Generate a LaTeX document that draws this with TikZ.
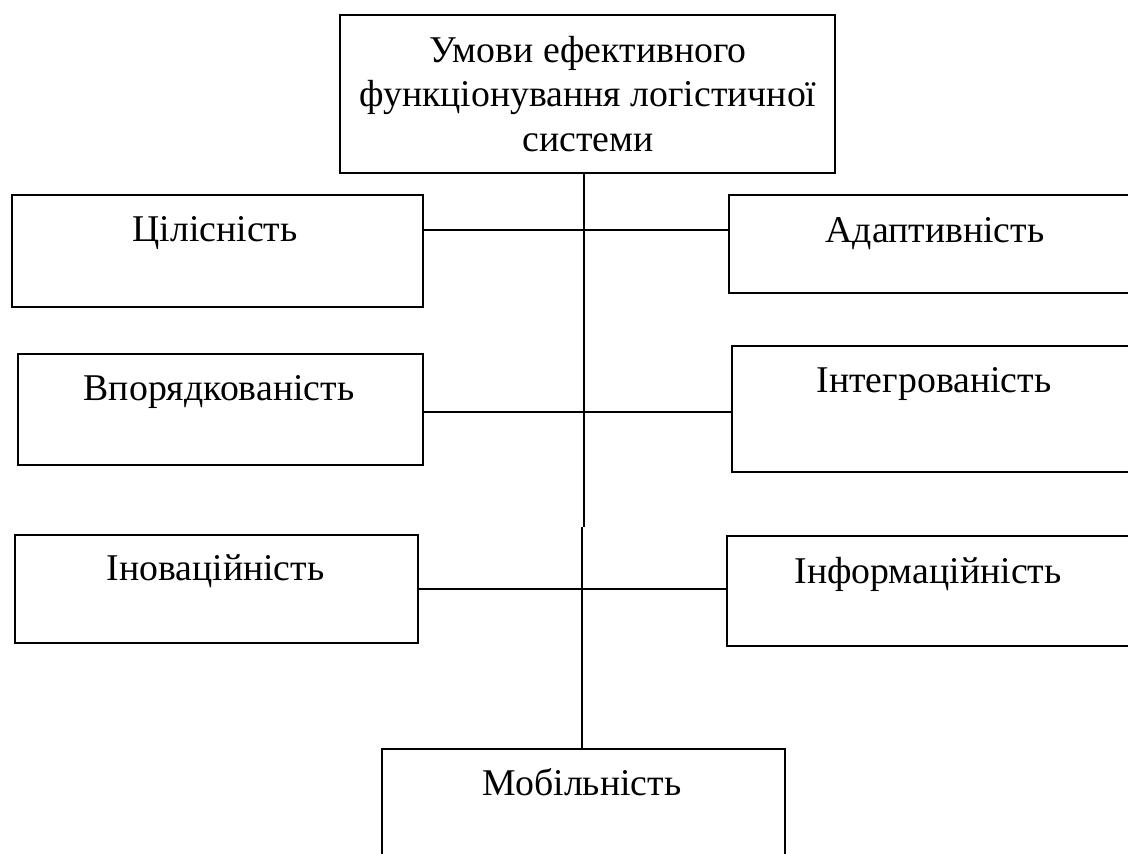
\documentclass[tikz,border=0pt]{standalone}
\usepackage{fontspec}
\setmainfont{Liberation Serif}
\usepackage{tikz}

\begin{document}
\begin{tikzpicture}[
    x=0.02cm, y=-0.02cm,
    every node/.style={font=\fontsize{21.5}{25.5}\selectfont},
    bx/.style={rectangle, draw, line width=1.3pt, inner sep=0pt},
    txt/.style={inner sep=0pt, anchor=base},
    ln/.style={line width=1.3pt},
  ]
  \useasboundingbox (0,0) rectangle (1128,854);
  \clip (0,0) rectangle (1128,854);
  % boxes
  \node[bx, minimum width=9.90cm, minimum height=3.16cm] (top) at (587.5, 94) {};
  \node[bx, minimum width=8.22cm, minimum height=2.24cm] (cil) at (217.5, 251) {};
  \node[bx, minimum width=8.10cm, minimum height=2.22cm] (vpo) at (220.5, 409.5) {};
  \node[bx, minimum width=8.06cm, minimum height=2.16cm] (ino) at (216.5, 589) {};
  \node[bx, minimum width=8.22cm, minimum height=1.96cm] (ada) at (934.5, 244) {};
  \node[bx, minimum width=8.16cm, minimum height=2.52cm] (int) at (936, 409) {};
  \node[bx, minimum width=8.26cm, minimum height=2.20cm] (inf) at (933.5, 591) {};
  \node[bx, minimum width=8.06cm, minimum height=2.42cm] (mob) at (583.5, 809.5) {};
  % texts
  \node[inner sep=0pt, align=center] (ttop) at (588, 94)
    {Умови ефективного\\функціонування логістичної\\системи};
  \node[txt] (tcil) at (215, 242) {Цілісність};
  \node[txt] (tvpo) at (219, 400) {Впорядкованість};
  \node[txt] (tino) at (215.5, 580) {Іноваційність};
  \node[txt] (tada) at (935, 243) {Адаптивність};
  \node[txt] (tint) at (934, 393) {Інтегрованість};
  \node[txt] (tinf) at (928, 583) {Інформаційність};
  \node[txt] (tmob) at (582, 795) {Мобільність};
  % trunk
  \coordinate (k1) at (584, 527);
  \coordinate (k2) at (582, 527);
  \draw[ln] (top.south -| k1) -- (k1);
  \draw[ln] (k2) -- (mob.north -| k2);
  % branches
  \coordinate (j1) at (583, 230);
  \coordinate (j2) at (583, 412);
  \coordinate (j3) at (583, 589);
  \draw[ln] (cil.east |- j1) -- (ada.west |- j1);
  \draw[ln] (vpo.east |- j2) -- (int.west |- j2);
  \draw[ln] (ino.east |- j3) -- (inf.west |- j3);
\end{tikzpicture}
\end{document}
